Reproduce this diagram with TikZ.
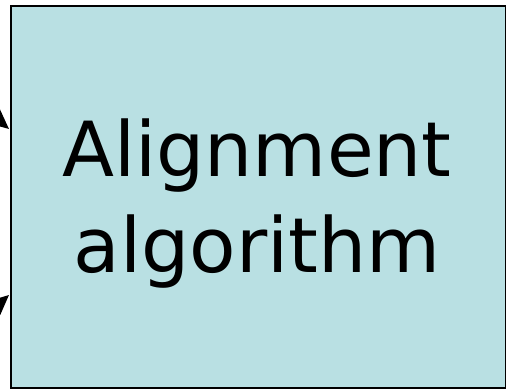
\documentclass[tikz,border=0pt]{standalone}
\usepackage{fontspec}
\setmainfont{DejaVu Sans}
\usetikzlibrary{arrows.meta}
\definecolor{boxfill}{HTML}{B9E0E3}
\tikzset{
  mainbox/.style={draw=black, line width=2pt, fill=boxfill},
  inarrow/.style={-{Triangle[length=20pt,width=18pt]}, line width=2pt},
  bigtext/.style={font=\fontsize{76}{96}\selectfont, align=center, inner sep=0pt}
}
\begin{document}
\begin{tikzpicture}[x=1pt,y=-1pt]
\useasboundingbox (0,0) rectangle (506,389);
\node[mainbox, minimum width=495pt, minimum height=382pt, inner sep=0pt, anchor=north west] (box) at (10,5) {};
\node[bigtext, anchor=base] (t) at (257,272) {Alignment\\algorithm};
\coordinate (s1) at (-25,100);
\coordinate (e1) at (9,129);
\coordinate (s2) at (-25,325);
\coordinate (e2) at (9,295);
\draw[inarrow] (s1) -- (e1);
\draw[inarrow] (s2) -- (e2);
\end{tikzpicture}
\end{document}
